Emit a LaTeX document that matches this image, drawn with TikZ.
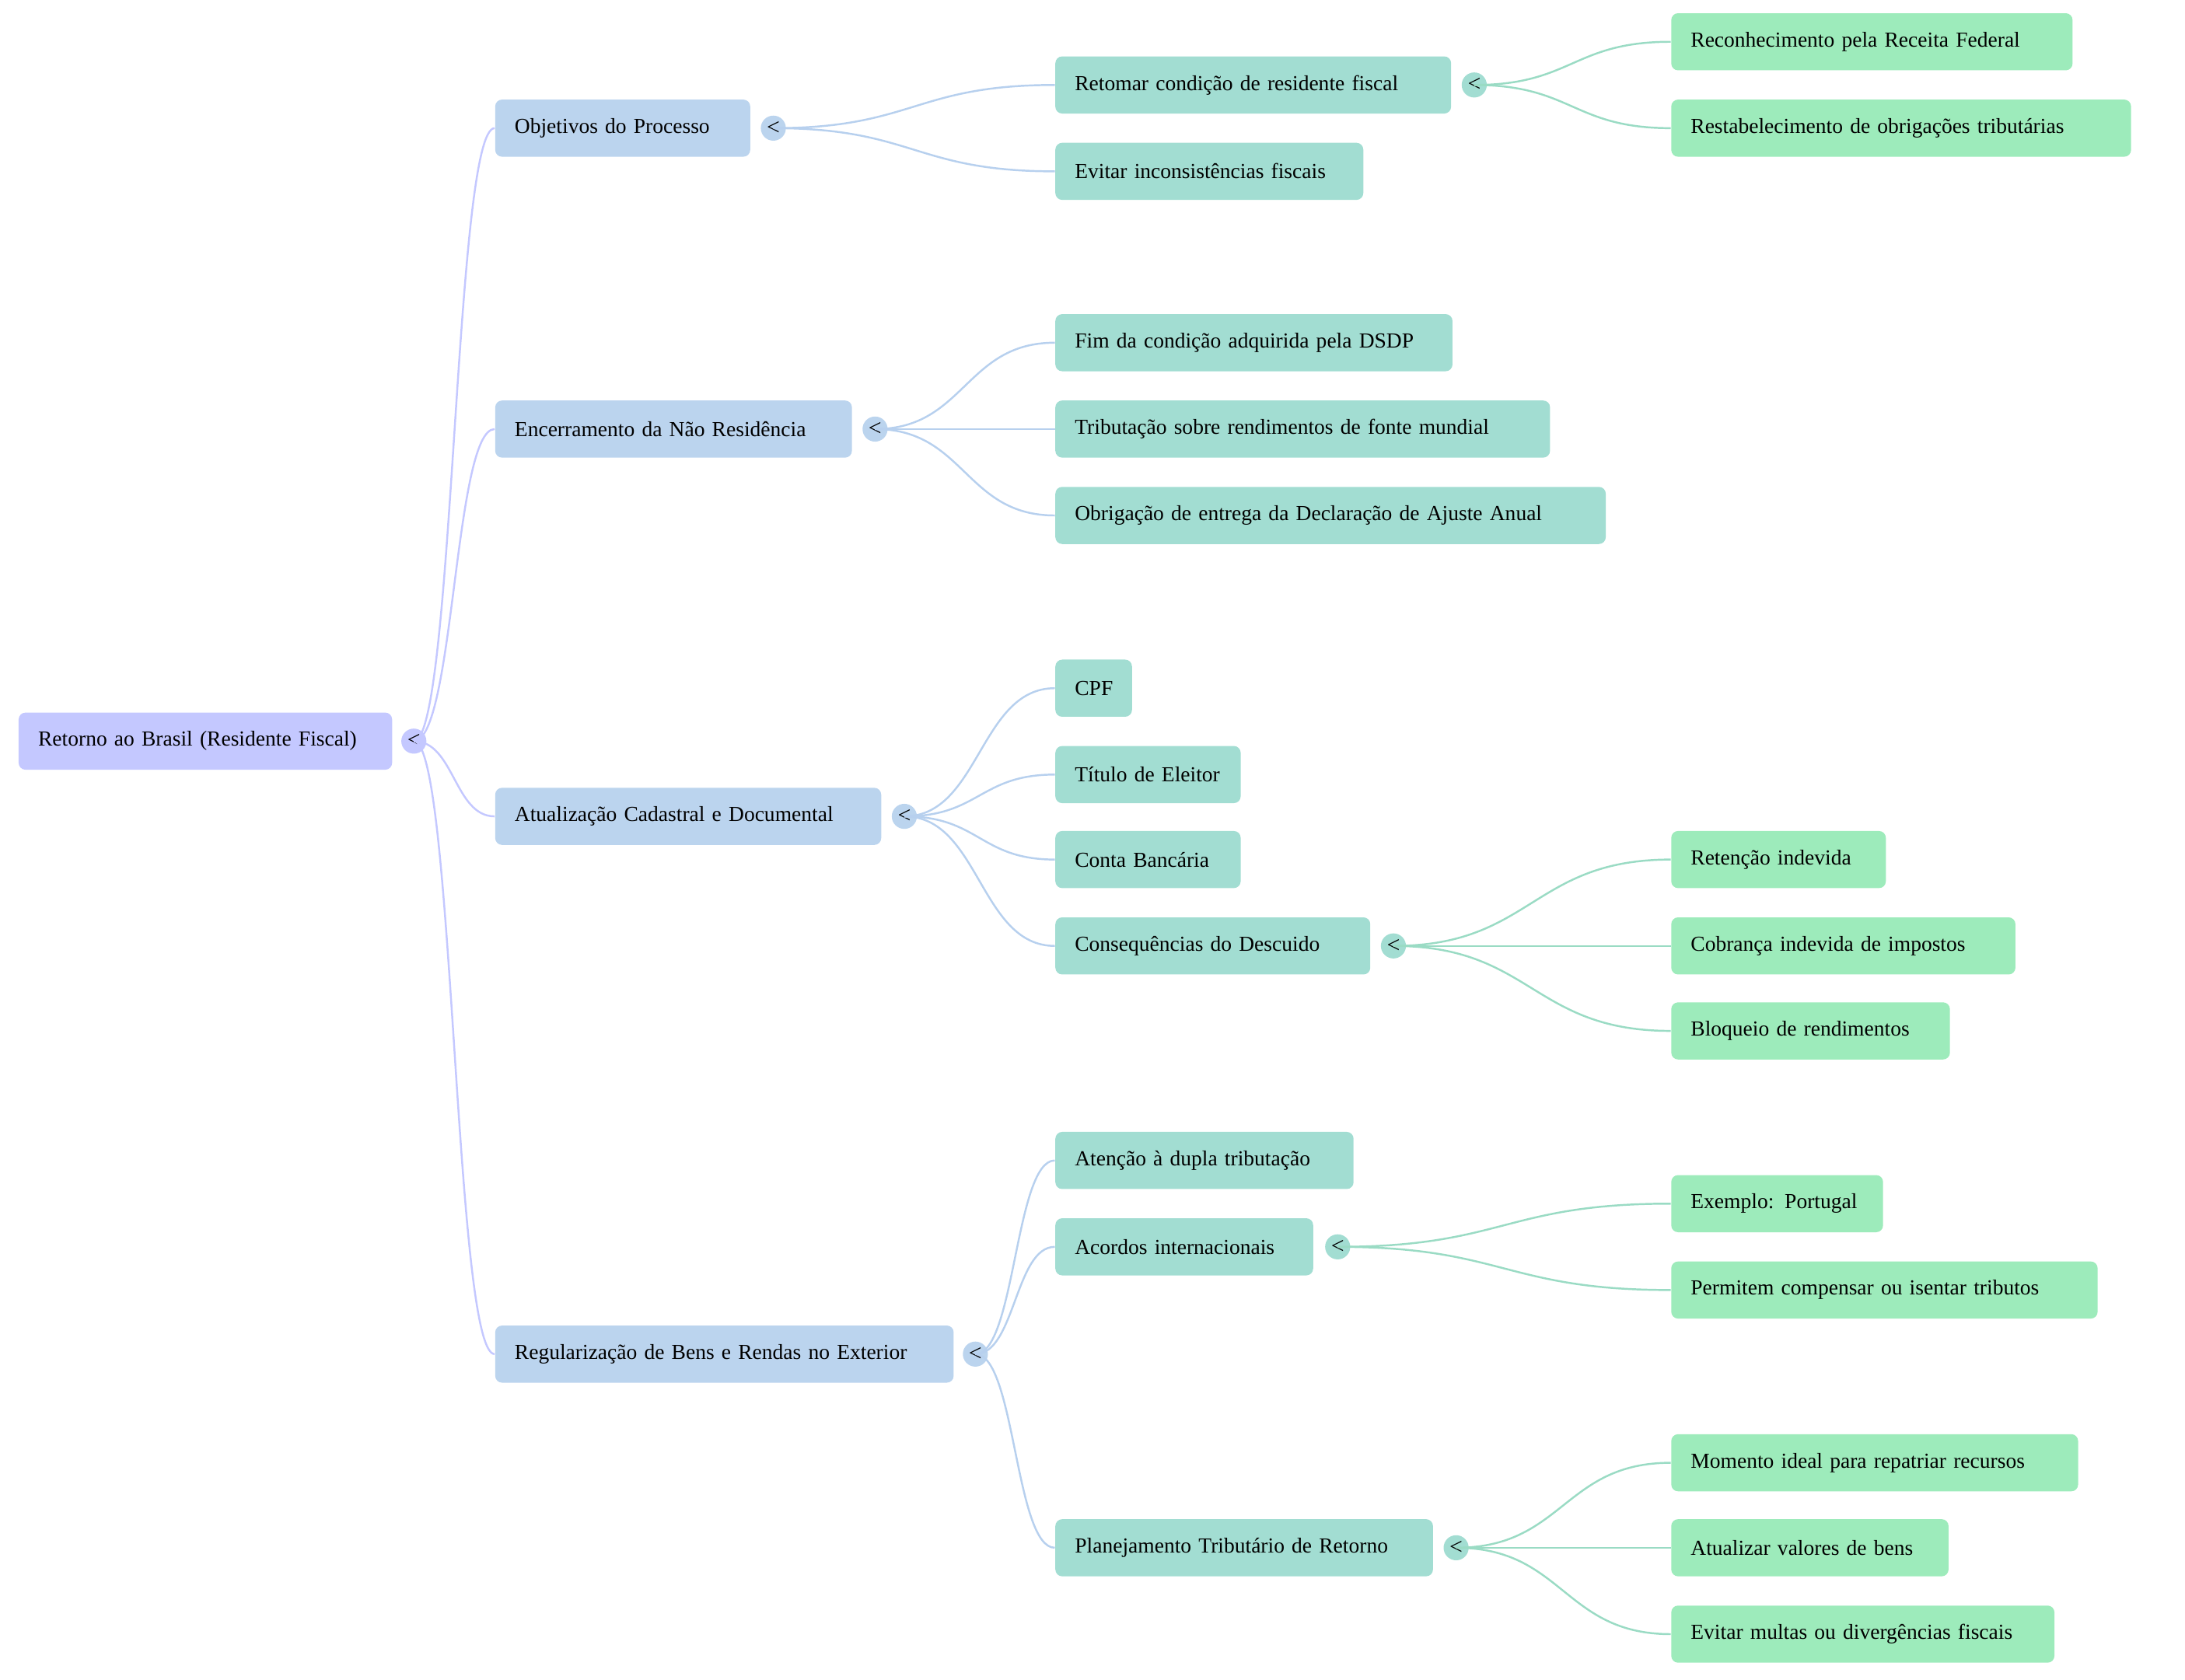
\documentclass[tikz,border=0pt]{standalone}
\usepackage{fontspec}
\setmainfont{Liberation Serif}
\usetikzlibrary{positioning,calc}
\definecolor{rootfill}{RGB}{196,200,255}
\definecolor{onefill}{RGB}{187,212,238}
\definecolor{twofill}{RGB}{162,221,210}
\definecolor{threefill}{RGB}{157,235,187}
\definecolor{rootline}{RGB}{196,200,255}
\definecolor{oneline}{RGB}{183,208,238}
\definecolor{twoline}{RGB}{154,219,196}
\tikzset{
  box/.style={rounded corners=2.5pt,inner xsep=14*0.01792cm,inner ysep=0pt,minimum height=41*0.01792cm,anchor=west,
    font=\fontsize{7.83}{9}\selectfont,align=left},
  knob/.style={circle,inner sep=0pt,minimum size=18*0.01792cm,font=\fontsize{8.5}{9}\selectfont},
  link/.style={line width=0.7pt}
}
% box: name, x, y, width, fill, text
\newcommand{\mapbox}[6]{\pgfmathsetmacro\tw{(#4-28)*0.01792}%
  \node[box,fill=#5,text width=\tw cm] (#1) at (#2,#3) {#6};}
\newcommand{\mapknob}[4]{\node[knob,fill=#4] (#1) at (#2,#3) {<};}
\newcommand{\maplink}[3]{\draw[link,#3] (#1.center) .. controls ($(#1.center)!0.5!(#1.center-|#2.west)$) and ($(#2.west)!0.5!(#1.center|-#2.west)$) .. (#2.west);}
\begin{document}
\begin{tikzpicture}[x=0.01792cm,y=-0.01792cm]
\useasboundingbox (0,0) rectangle (1568.1,1205.4);
% root
\mapbox{root}{13}{532}{268}{rootfill}{Retorno ao Brasil (Residente Fiscal)}
\mapknob{kroot}{297}{532}{rootfill}
% level one
\mapbox{obj}{355}{92}{183}{onefill}{Objetivos do Processo}
\mapbox{enc}{355}{308}{256}{onefill}{Encerramento da Não Residência}
\mapbox{atu}{355}{586}{277}{onefill}{Atualização Cadastral e Documental}
\mapbox{reg}{355}{972}{329}{onefill}{Regularização de Bens e Rendas no Exterior}
\mapknob{kobj}{555}{92}{onefill}
\mapknob{kenc}{628}{308}{onefill}
\mapknob{katu}{649}{586}{onefill}
\mapknob{kreg}{700}{972}{onefill}
% level two
\mapbox{ret}{757}{61}{284}{twofill}{Retomar condição de residente fiscal}
\mapbox{evi}{757}{123}{221}{twofill}{Evitar inconsistências fiscais}
\mapbox{fim}{757}{246}{285}{twofill}{Fim da condição adquirida pela DSDP}
\mapbox{tri}{757}{308}{355}{twofill}{Tributação sobre rendimentos de fonte mundial}
\mapbox{obr}{757}{370}{395}{twofill}{Obrigação de entrega da Declaração de Ajuste Anual}
\mapbox{cpf}{757}{494}{55}{twofill}{CPF}
\mapbox{tit}{757}{556}{133}{twofill}{Título de Eleitor}
\mapbox{con}{757}{617}{133}{twofill}{Conta Bancária}
\mapbox{csq}{757}{679}{226}{twofill}{Consequências do Descuido}
\mapbox{ate}{757}{833}{214}{twofill}{Atenção à dupla tributação}
\mapbox{aco}{757}{895}{185}{twofill}{Acordos internacionais}
\mapbox{pla}{757}{1111}{271}{twofill}{Planejamento Tributário de Retorno}
\mapknob{kret}{1058}{61}{twofill}
\mapknob{kcsq}{1000}{679}{twofill}
\mapknob{kaco}{960}{895}{twofill}
\mapknob{kpla}{1045}{1111}{twofill}
% level three
\mapbox{rec}{1199}{30}{288}{threefill}{Reconhecimento pela Receita Federal}
\mapbox{res}{1199}{92}{330}{threefill}{Restabelecimento de obrigações tributárias}
\mapbox{rtn}{1199}{617}{154}{threefill}{Retenção indevida}
\mapbox{cob}{1199}{679}{247}{threefill}{Cobrança indevida de impostos}
\mapbox{blo}{1199}{740}{200}{threefill}{Bloqueio de rendimentos}
\mapbox{exe}{1199}{864}{152}{threefill}{Exemplo: Portugal}
\mapbox{per}{1199}{926}{306}{threefill}{Permitem compensar ou isentar tributos}
\mapbox{mom}{1199}{1050}{292}{threefill}{Momento ideal para repatriar recursos}
\mapbox{atv}{1199}{1111}{199}{threefill}{Atualizar valores de bens}
\mapbox{evm}{1199}{1173}{275}{threefill}{Evitar multas ou divergências fiscais}
% links
\foreach \c in {obj,enc,atu,reg} {\maplink{kroot}{\c}{rootline}}
\foreach \c in {ret,evi} {\maplink{kobj}{\c}{oneline}}
\foreach \c in {fim,tri,obr} {\maplink{kenc}{\c}{oneline}}
\foreach \c in {cpf,tit,con,csq} {\maplink{katu}{\c}{oneline}}
\foreach \c in {ate,aco,pla} {\maplink{kreg}{\c}{oneline}}
\foreach \c in {rec,res} {\maplink{kret}{\c}{twoline}}
\foreach \c in {rtn,cob,blo} {\maplink{kcsq}{\c}{twoline}}
\foreach \c in {exe,per} {\maplink{kaco}{\c}{twoline}}
\foreach \c in {mom,atv,evm} {\maplink{kpla}{\c}{twoline}}
\end{tikzpicture}
\end{document}
